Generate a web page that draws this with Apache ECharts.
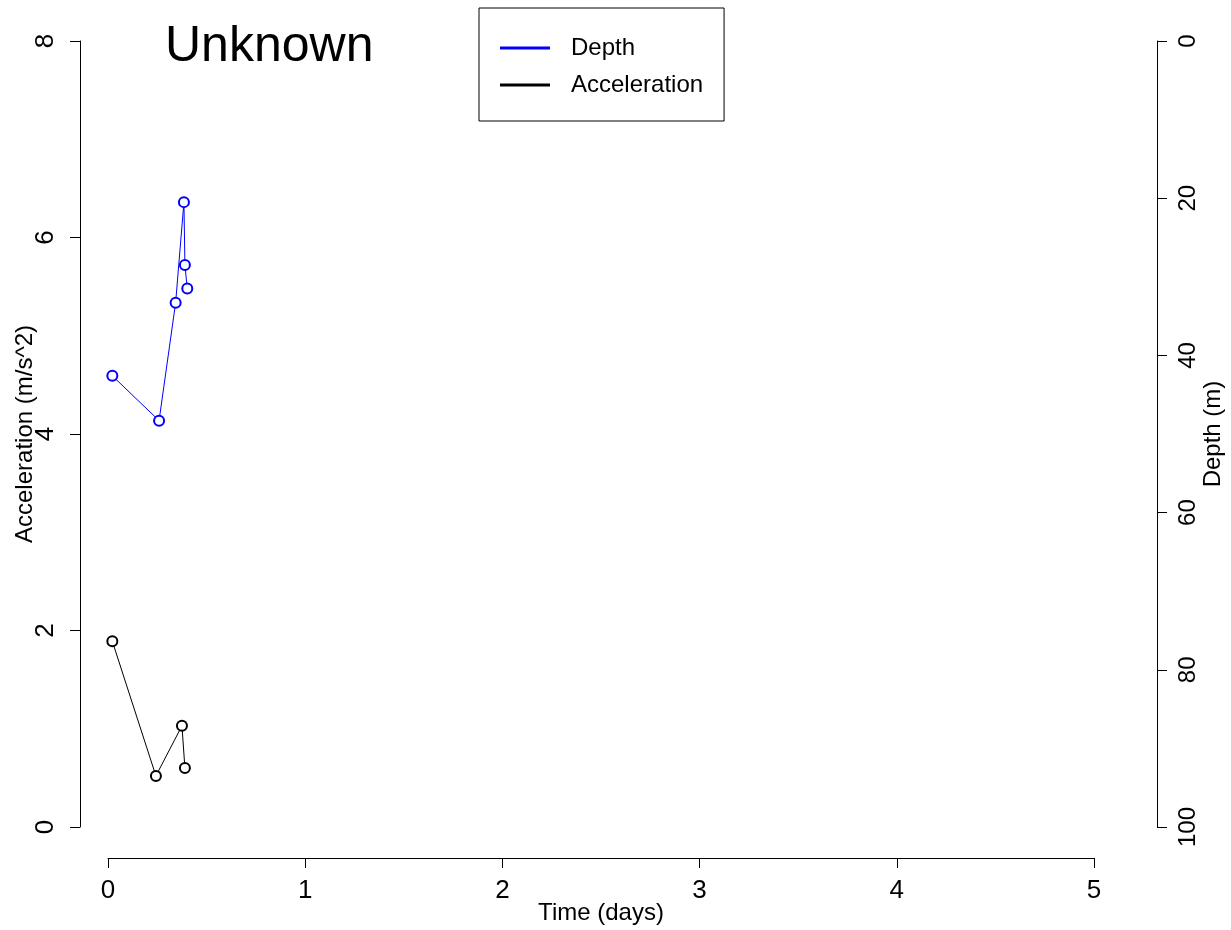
<!DOCTYPE html>
<html>
<head>
<meta charset="utf-8">
<script src="https://cdn.jsdelivr.net/npm/echarts@6/dist/echarts.min.js"></script>
<style>
html,body{margin:0;padding:0;background:#fff;}
#chart{width:1231px;height:930px;}
</style>
</head>
<body>
<div id="chart"></div>
<script>
var titleText = "Unknown";
var xTicks = [0, 1, 2, 3, 4, 5];
var accTicks = [0, 2, 4, 6, 8];
var depthTicks = [0, 20, 40, 60, 80, 100];

var depthTime = [0.022, 0.259, 0.343, 0.385, 0.390, 0.402];
var depthValues = [42.6, 48.3, 33.3, 20.5, 28.5, 31.5];

var accTime = [0.022, 0.243, 0.375, 0.390];
var accValues = [1.89, 0.52, 1.03, 0.60];

var FONT = "Liberation Sans, Arial, sans-serif";

function pairs(xs, ys) {
  return xs.map(function (x, i) { return [x, ys[i]]; });
}

var chart = echarts.init(document.getElementById('chart'), null, {renderer: 'canvas'});
chart.setOption({
  backgroundColor: '#ffffff',
  animation: false,
  title: {
    text: titleText,
    left: 160,
    top: 17,
    textStyle: {fontFamily: FONT, fontSize: 50, fontWeight: 'normal', color: '#000'}
  },
  legend: {
    orient: 'vertical',
    left: 479,
    top: 8,
    padding: [26, 21, 22, 21],
    borderColor: '#000',
    borderWidth: 1,
    borderRadius: 0,
    itemWidth: 50,
    itemHeight: 3,
    itemGap: 9,
    textStyle: {fontFamily: FONT, fontSize: 24, color: '#000', lineHeight: 28, padding: [0, 0, 0, 16]},
    data: [
      {name: 'Depth', icon: 'rect', itemStyle: {color: '#0000ff', borderWidth: 0}},
      {name: 'Acceleration', icon: 'rect', itemStyle: {color: '#000000', borderWidth: 0}}
    ]
  },
  grid: {left: 108, right: 137, top: 41, bottom: 103, containLabel: false, outerBoundsMode: 'none'},
  xAxis: {
    type: 'value',
    min: xTicks[0],
    max: xTicks[xTicks.length - 1],
    interval: 1,
    offset: 31,
    name: 'Time (days)',
    nameLocation: 'middle',
    nameGap: 43,
    nameMoveOverlap: false,
    nameTextStyle: {fontFamily: FONT, fontSize: 24, color: '#000'},
    axisLine: {show: true, onZero: false, lineStyle: {color: '#000', width: 1}},
    axisTick: {show: true, length: 10, lineStyle: {color: '#000'}},
    axisLabel: {margin: 20, fontFamily: FONT, fontSize: 26, color: '#000'},
    splitLine: {show: false}
  },
  yAxis: [
    {
      type: 'value',
      position: 'left',
      min: accTicks[0],
      max: accTicks[accTicks.length - 1],
      interval: 2,
      offset: 28,
      name: 'Acceleration (m/s^2)',
      nameLocation: 'middle',
      nameGap: 43,
      nameMoveOverlap: false,
      nameTextStyle: {fontFamily: FONT, fontSize: 24, color: '#000'},
      axisLine: {show: true, onZero: false, lineStyle: {color: '#000', width: 1}},
      axisTick: {show: true, length: 10, lineStyle: {color: '#000'}},
      axisLabel: {rotate: 90, margin: 21, fontFamily: FONT, fontSize: 26, color: '#000'},
      splitLine: {show: false}
    },
    {
      type: 'value',
      position: 'right',
      inverse: true,
      min: depthTicks[0],
      max: depthTicks[depthTicks.length - 1],
      interval: 20,
      offset: 63,
      name: 'Depth (m)',
      nameLocation: 'middle',
      nameGap: 44,
      nameMoveOverlap: false,
      nameTextStyle: {fontFamily: FONT, fontSize: 24, color: '#000'},
      axisLine: {show: true, onZero: false, lineStyle: {color: '#000', width: 1}},
      axisTick: {show: true, length: 10, lineStyle: {color: '#000'}},
      axisLabel: {rotate: 90, margin: 19, fontFamily: FONT, fontSize: 24, color: '#000'},
      splitLine: {show: false}
    }
  ],
  series: [
    {
      name: 'Depth',
      type: 'line',
      yAxisIndex: 1,
      data: pairs(depthTime, depthValues),
      symbol: 'emptyCircle',
      symbolSize: 10,
      showAllSymbol: true,
      lineStyle: {color: '#0000ff', width: 1},
      itemStyle: {color: '#0000ff', borderColor: '#5a5aff', borderWidth: 1}
    },
    {
      name: 'Acceleration',
      type: 'line',
      yAxisIndex: 0,
      data: pairs(accTime, accValues),
      symbol: 'emptyCircle',
      symbolSize: 10,
      showAllSymbol: true,
      lineStyle: {color: '#000000', width: 1},
      itemStyle: {color: '#000000', borderColor: '#444444', borderWidth: 1}
    }
  ]
});
</script>
</body>
</html>
